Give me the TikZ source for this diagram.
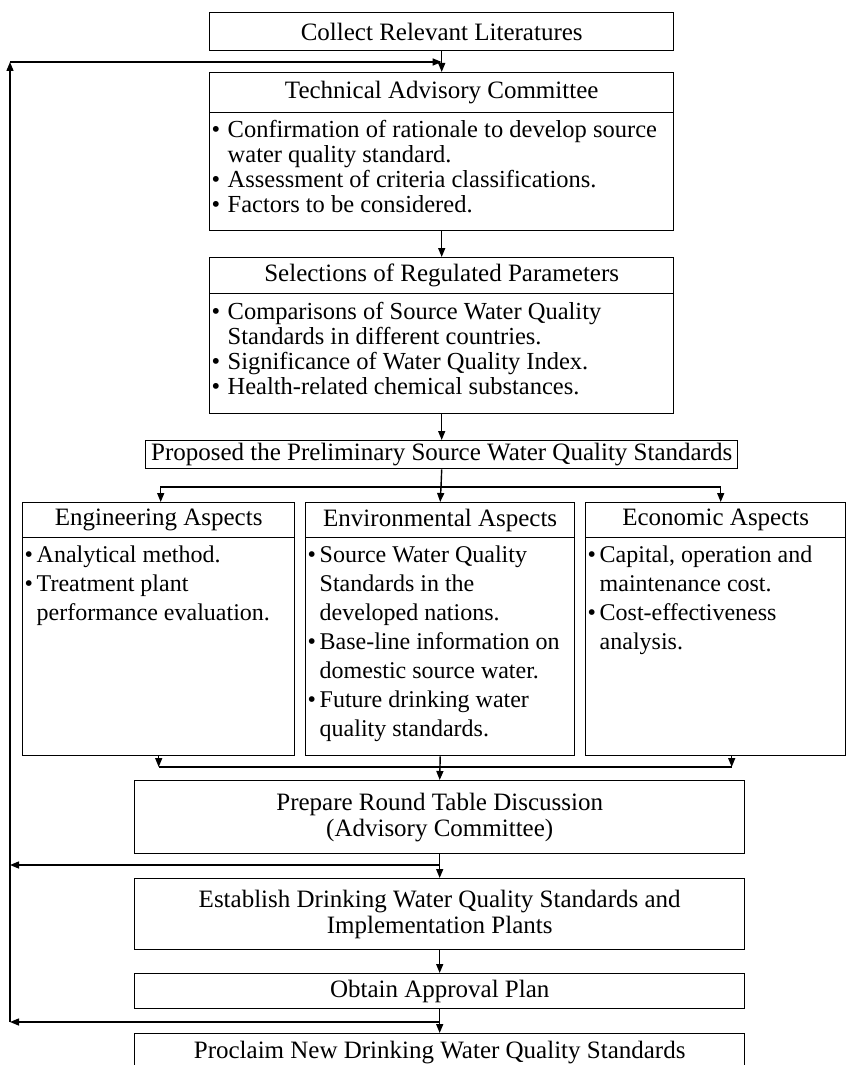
\documentclass[tikz,border=0pt]{standalone}
\usepackage{fontspec}
\setmainfont{Liberation Serif}
\usetikzlibrary{arrows.meta}
\newcommand{\fA}{\fontsize{25}{26}\selectfont}
\newcommand{\fL}{\fontsize{24.5}{25}\selectfont}
\newcommand{\fB}{\fontsize{24}{29}\selectfont}
\begin{document}
\begin{tikzpicture}[x=1pt,y=-1pt,line width=1.4pt,
  box/.style={draw,rectangle,inner sep=0pt,anchor=north west,font=\fA,align=center},
  lst/.style={inner sep=0pt,anchor=north west,align=left},
  arr/.style={-{Triangle[length=9pt,width=7pt]}}]
\useasboundingbox (0,0) rectangle (846,1065);
\clip (0,0) rectangle (846,1065);

% main column
\node[box,minimum width=464pt,minimum height=38pt] (collect) at (209,12) {Collect Relevant Literatures};
\node[box,minimum width=464pt,minimum height=40pt] (tach) at (209,72) {Technical Advisory Committee};
\node[box,minimum width=464pt,minimum height=118pt] (tacb) at (209,112) {};
\node[lst,font=\fL] (tacl) at (211,119) {\begin{tabular}{@{}p{16pt}@{}l@{}}
\textbullet & Confirmation of rationale to develop source\\
 & water quality standard.\\
\textbullet & Assessment of criteria classifications.\\
\textbullet & Factors to be considered.
\end{tabular}};

\node[box,minimum width=464pt,minimum height=36pt] (selh) at (209,257) {Selections of Regulated Parameters};
\node[box,minimum width=464pt,minimum height=120pt] (selb) at (209,293) {};
\node[lst,font=\fL] (sell) at (211,301) {\begin{tabular}{@{}p{16pt}@{}l@{}}
\textbullet & Comparisons of Source Water Quality\\
 & Standards in different countries.\\
\textbullet & Significance of Water Quality Index.\\
\textbullet & Health-related chemical substances.
\end{tabular}};

\node[box,minimum width=592pt,minimum height=28pt] (prop) at (145,440) {Proposed the Preliminary Source Water Quality Standards};

% three columns
\node[box,minimum width=272pt,minimum height=35pt] (engh) at (22,502) {Engineering Aspects};
\node[box,minimum width=272pt,minimum height=218pt] (engb) at (22,537) {};
\node[lst,font=\fB] (engl) at (24,541) {\begin{tabular}{@{}p{12pt}@{}l@{}}
\textbullet & Analytical method.\\
\textbullet & Treatment plant\\
 & performance evaluation.
\end{tabular}};

\node[box,minimum width=269pt,minimum height=35pt] (envh) at (305,502) {Environmental Aspects};
\node[box,minimum width=269pt,minimum height=218pt] (envb) at (305,537) {};
\node[lst,font=\fB] (envl) at (307,541) {\begin{tabular}{@{}p{12pt}@{}l@{}}
\textbullet & Source Water Quality\\
 & Standards in the\\
 & developed nations.\\
\textbullet & Base-line information on\\
 & domestic source water.\\
\textbullet & Future drinking water\\
 & quality standards.
\end{tabular}};

\node[box,minimum width=260pt,minimum height=35pt] (ecoh) at (585,502) {Economic Aspects};
\node[box,minimum width=260pt,minimum height=218pt] (ecob) at (585,537) {};
\node[lst,font=\fB] (ecol) at (587,541) {\begin{tabular}{@{}p{12pt}@{}l@{}}
\textbullet & Capital, operation and\\
 & maintenance cost.\\
\textbullet & Cost-effectiveness\\
 & analysis.
\end{tabular}};

% lower column
\node[box,minimum width=610pt,minimum height=73pt] (prep) at (134,780) {Prepare Round Table Discussion\\(Advisory Committee)};
\node[box,minimum width=610pt,minimum height=71pt] (estab) at (134,878) {Establish Drinking Water Quality Standards and\\Implementation Plants};
\node[box,minimum width=610pt,minimum height=35pt] (obtain) at (134,973) {Obtain Approval Plan};
\node[box,minimum width=610pt,minimum height=38pt] (procl) at (134,1033) {Proclaim New Drinking Water Quality Standards};

% coordinates
\coordinate (fbtop) at (10,62);
\coordinate (fbmid) at (10,865);
\coordinate (fbbot) at (10,1022);
\coordinate (br) at (441,487);
\coordinate (mg) at (441,767);

% connectors
\draw[arr] (collect.south) -- (tach.north);
\draw[arr] (fbtop) -- (collect.south |- fbtop);
\draw[arr] (fbbot) -- (fbtop);
\draw[arr] (tacb.south) -- (selh.north);
\draw[arr] (selb.south) -- (prop.north);
\draw (prop.south) -- (br);
\draw[arr] (br) -- (envh.north);
\draw[arr] (br) -| ([xshift=2pt]engh.north);
\draw[arr] (br) -| ([xshift=5pt]ecoh.north);
\draw[arr] (engb.south) -- (engb.south |- mg);
\draw[arr] ([xshift=16pt]ecob.south) -- ([xshift=16pt]ecob.south |- mg);
\draw (engb.south |- mg) -- ([xshift=16pt]ecob.south |- mg);
\draw[arr] (envb.south) -- (prep.north);
\draw[arr] (prep.south) -- (estab.north);
\draw[arr] (prep.south |- fbmid) -- (fbmid);
\draw[arr] (estab.south) -- (obtain.north);
\draw[arr] (obtain.south) -- (procl.north);
\draw[arr] (obtain.south |- fbbot) -- (fbbot);
\end{tikzpicture}
\end{document}
